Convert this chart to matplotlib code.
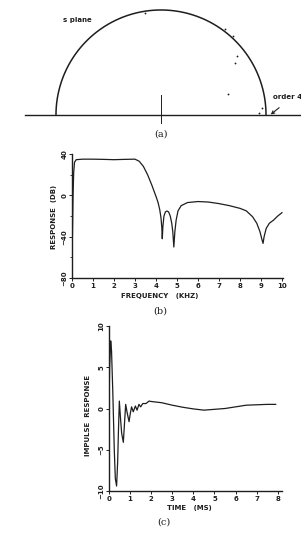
import numpy as np
import matplotlib.pyplot as plt

# (a) s-plane pole positions, normalised to unit circle radius
pole_re = [-0.15, 0.61, 0.69, 0.72, 0.70, 0.64, 0.96, 0.93]
pole_im = [0.97, 0.82, 0.75, 0.56, 0.50, 0.20, 0.07, 0.02]

# (b) frequency response, kHz vs dB
freq = [0.02, 0.05, 0.08, 0.12, 0.2, 0.5, 1.0, 1.5, 2.0, 2.5, 3.0, 3.2, 3.4, 3.6,
        3.8, 4.0, 4.1, 4.18, 4.24, 4.28, 4.3, 4.33, 4.38, 4.45, 4.52, 4.6, 4.68,
        4.75, 4.8, 4.85, 4.9, 4.96, 5.05, 5.2, 5.5, 6.0, 6.5, 7.0, 7.5, 8.0, 8.3,
        8.6, 8.8, 8.95, 9.05, 9.1, 9.15, 9.25, 9.4, 9.6, 9.8, 10.0]
resp_db = [-40, 0, 22, 32, 34.5, 35, 35, 34.8, 34.5, 34.8, 35, 33, 28, 20,
           10, -1, -7, -14, -22, -32, -42, -30, -20, -16, -15.2, -16, -20,
           -27, -35, -50, -35, -24, -15, -10, -7, -6, -6.5, -8, -10, -12.6, -15,
           -20.7, -27, -35, -43, -46.5, -40, -32, -27, -24, -20, -16.8]

# (c) impulse response, ms vs amplitude
t_ms = [0.0, 0.03, 0.08, 0.12, 0.18, 0.25, 0.3, 0.36, 0.41, 0.45, 0.49, 0.54,
        0.6, 0.68, 0.73, 0.79, 0.86, 0.95, 1.01, 1.07, 1.15, 1.25, 1.33, 1.42,
        1.5, 1.6, 1.75, 1.9, 2.0, 2.5, 3.0, 3.5, 4.0, 4.5, 5.0, 5.5, 6.0, 6.5,
        7.0, 7.5, 7.9]
impulse = [0.0, 5.0, 8.2, 7.0, 2.0, -5.0, -8.5, -9.4, -6.5, -2.5, 0.9, -1.0,
           -3.0, -4.1, -2.0, 0.5, -0.5, -1.6, -0.6, 0.2, -0.4, 0.3, -0.2, 0.5,
           0.2, 0.6, 0.6, 0.9, 0.85, 0.7, 0.4, 0.15, -0.05, -0.2, -0.1, 0.0,
           0.2, 0.4, 0.45, 0.5, 0.5]

W, H = 301, 542
ink = '#1e1e1e'
lab = dict(family='DejaVu Sans', weight='bold', size=5, color=ink)
cap = dict(family='DejaVu Serif', size=7, color=ink)


def rect(left, top, w, h):
    return [left / W, 1 - (top + h) / H, w / W, h / H]


fig = plt.figure(figsize=(W / 100, H / 100), dpi=100)

# ---- (a) s plane
ax = fig.add_axes(rect(0, 0, 301, 125))
ax.set_xlim(-1.533, 1.333)
ax.set_ylim(-0.095, 1.095)
ax.axis('off')
th = np.linspace(0, np.pi, 300)
ax.plot(np.cos(th), np.sin(th), color=ink, lw=1.1)
ax.plot([-1.295, 1.333], [0, 0], color=ink, lw=1.0)
ax.plot([0, 0], [-0.076, 0.19], color=ink, lw=0.7)
ax.plot(pole_re, pole_im, 'o', color=ink, ms=1.3, mec='none')
ax.text(-0.933, 0.905, 's plane', ha='left', va='center', **lab)
ax.text(1.067, 0.171, 'order 4', ha='left', va='center', **lab)
ax.annotate('', xy=(1.045, 0.005), xytext=(1.125, 0.07),
            arrowprops=dict(arrowstyle='->', color=ink, lw=0.8,
                            mutation_scale=5, shrinkA=0, shrinkB=0))
fig.text(161 / W, 1 - 134 / H, '(a)', ha='center', va='center', **cap)


def style(ax):
    for s in ['top', 'right']:
        ax.spines[s].set_visible(False)
    for s in ['left', 'bottom']:
        ax.spines[s].set_color(ink)
        ax.spines[s].set_linewidth(1.0)
    ax.tick_params(direction='out', length=2, width=0.7, color=ink,
                   labelsize=5, labelcolor=ink, pad=1.5)
    ax.tick_params(axis='y', labelrotation=90)
    ax.tick_params(which='minor', length=1.5, width=0.6, color=ink)
    for t in ax.get_xticklabels() + ax.get_yticklabels():
        t.set_fontweight('bold')
    for t in ax.get_yticklabels():
        t.set_va('center')


# ---- (b) frequency response
ax = fig.add_axes(rect(72, 154, 211, 124))
ax.plot(freq, resp_db, color=ink, lw=0.9)
ax.set_xlim(0, 10.05)
ax.set_ylim(-80, 40)
ax.set_xticks(range(0, 11))
ax.set_yticks([40, 0, -40, -80])
ax.set_yticks([20, -20, -60], minor=True)
style(ax)
fig.text(54 / W, 1 - 217 / H, 'RESPONSE  (DB)', rotation=90, ha='center',
         va='center', **lab)
fig.text(160 / W, 1 - 296 / H, 'FREQUENCY   (KHZ)', ha='center', va='center',
         **lab)
fig.text(160 / W, 1 - 311 / H, '(b)', ha='center', va='center', **cap)

# ---- (c) impulse response
ax = fig.add_axes(rect(109, 326, 173, 165))
ax.plot(t_ms, impulse, color=ink, lw=0.9)
ax.set_xlim(0, 8.2)
ax.set_ylim(-10, 10)
ax.set_xticks(range(0, 9))
ax.set_yticks([10, 5, 0, -5, -10])
style(ax)
fig.text(88 / W, 1 - 415 / H, 'IMPULSE  RESPONSE', rotation=90, ha='center',
         va='center', **lab)
fig.text(189 / W, 1 - 508 / H, 'TIME   (MS)', ha='center', va='center', **lab)
fig.text(164 / W, 1 - 522 / H, '(c)', ha='center', va='center', **cap)

fig.savefig('out.png', dpi=100, facecolor='white')
